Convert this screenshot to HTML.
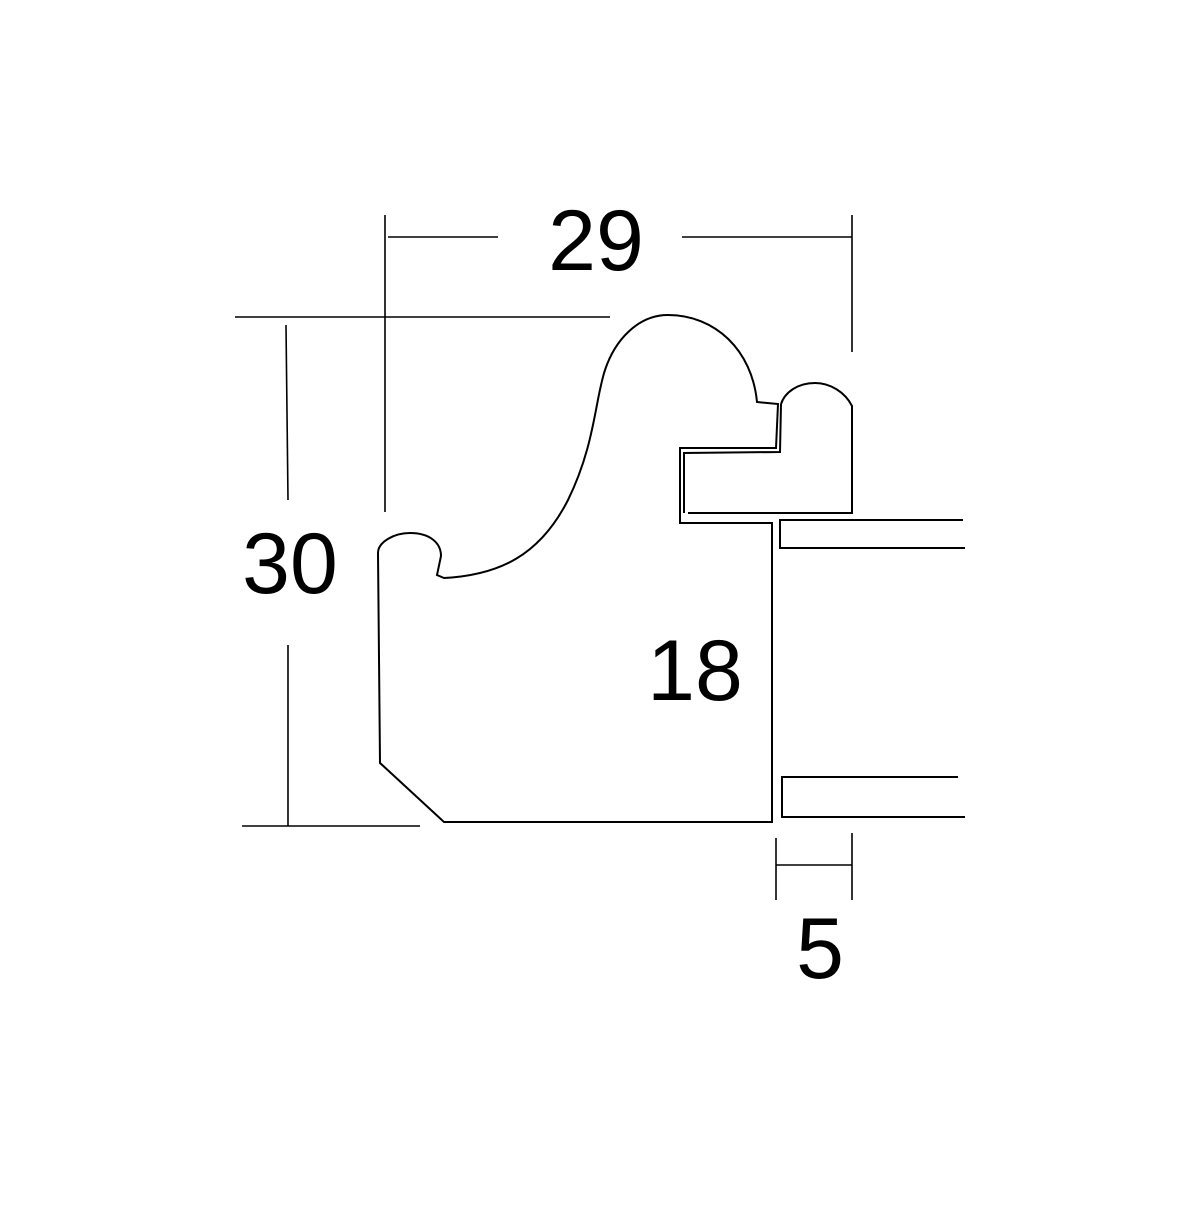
<!DOCTYPE html>
<html><head><style>html,body{margin:0;padding:0;background:#fff}</style></head>
<body>
<svg width="1200" height="1200" viewBox="0 0 1200 1200" xmlns="http://www.w3.org/2000/svg">
<rect width="1200" height="1200" fill="#fff"/>
<g fill="none" stroke="#000" stroke-width="1.6">
<line x1="385" y1="215" x2="385" y2="512"/>
<line x1="852" y1="215" x2="852" y2="352"/>
<line x1="388" y1="237" x2="498" y2="237"/>
<line x1="682" y1="237" x2="852" y2="237"/>
<line x1="235" y1="317" x2="610" y2="317"/>
<line x1="242" y1="826" x2="420" y2="826"/>
<line x1="286" y1="325" x2="288" y2="500"/>
<line x1="288" y1="645" x2="288" y2="826"/>
<line x1="776" y1="838" x2="776" y2="900"/>
<line x1="852" y1="833" x2="852" y2="900"/>
<line x1="776" y1="865" x2="852" y2="865"/>
</g>
<g fill="none" stroke="#000" stroke-width="2" stroke-linejoin="miter">
<path d="M772,523 L772,822 L444,822 L380,763 L378,553 C378,542 394,533 410,533 C430,533 441,543 441,556 L437,575 L444,578 C500,575 540,555 568,500 C595,445 595,400 605,370 C615,340 638,315 668,315 C715,315 752,350 757,402 L778,404 L776,448 L680,448 L680,523 Z"/>
<path d="M684,513 L684,453 L780,452 L781,404"/>
<path d="M688,513 L852,513 L852,406 C845,392 830,383 815,383 C798,383 785,392 781,404"/>
<path d="M963,520 L780,520 L780,548 L965,548"/>
<path d="M958,777 L782,777 L782,817 L965,817"/>
</g>
<g font-family="Liberation Sans, sans-serif" font-size="86" fill="#000" text-anchor="middle">
<text x="596" y="270">29</text>
<text x="290" y="593">30</text>
<text x="695" y="700">18</text>
<text x="820" y="978">5</text>
</g>
</svg>
</body></html>
